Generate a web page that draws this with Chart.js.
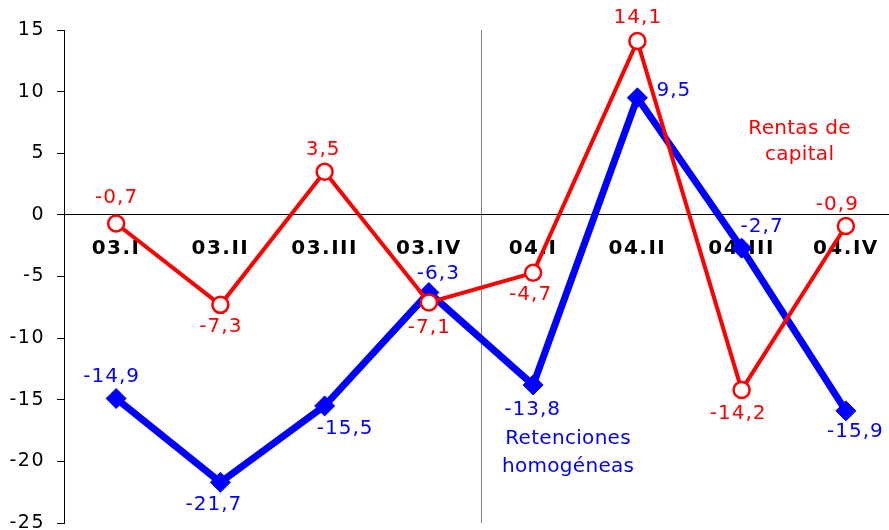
<!DOCTYPE html>
<html>
<head>
<meta charset="utf-8">
<script src="https://cdn.jsdelivr.net/npm/chart.js@4"></script>
<style>
  html, body { margin: 0; padding: 0; overflow: hidden; background: #fff; }
  #wrap { width: 909px; height: 560px; }
</style>
</head>
<body>
<div id="wrap"><canvas id="myChart" width="909" height="560"></canvas></div>
<script>
// datos del gráfico
var categorias = ['03.I', '03.II', '03.III', '03.IV', '04.I', '04.II', '04.III', '04.IV'];
var rentasCapital = [-0.7, -7.3, 3.5, -7.1, -4.7, 14.1, -14.2, -0.9];
var retenciones = [-14.9, -21.7, -15.5, -6.3, -13.8, 9.5, -2.7, -15.9];
var ticksY = [-25, -20, -15, -10, -5, 0, 5, 10, 15];

// desplazamiento de cada etiqueta respecto a su punto (px)
var offRojo = [[0, -26], [0, 22], [-2, -22], [0, 25], [-3, 22], [0, -23], [-4, 24], [-9, -21]];
var offAzul = [[-5, -22], [-7, 22], [20, 23], [9, -19], [-1, 25], [36, -7], [20, -21], [9, 21]];

var ROJO = '#ff0000';
var AZUL = '#0000ff';
var FUENTE = '"DejaVu Sans", Verdana, sans-serif';

function fmt(v) {
    return v.toFixed(1).replace('.', ',');
}

// espaciado de letras para los ejes (se quita antes de las series)
var espaciado = {
    id: 'espaciado',
    beforeDraw: function (chart) { chart.ctx.letterSpacing = '1.5px'; },
    beforeDatasetsDraw: function (chart) { chart.ctx.letterSpacing = '0px'; }
};

// etiquetas de valores y nombres de series
var etiquetas = {
    id: 'etiquetas',
    afterDatasetsDraw: function (chart) {
        var c = chart.ctx;
        var x = chart.scales.x, y = chart.scales.y;
        c.save();
        c.font = '20px ' + FUENTE;
        c.textAlign = 'center';
        c.textBaseline = 'middle';
        c.letterSpacing = '1px';
        var conf = [[0, ROJO, offRojo], [1, AZUL, offAzul]];
        conf.forEach(function (cf) {
            var meta = chart.getDatasetMeta(cf[0]);
            var vals = chart.data.datasets[cf[0]].data;
            c.fillStyle = cf[1];
            meta.data.forEach(function (p, i) {
                var o = cf[2][i];
                c.fillText(fmt(vals[i]), p.x + o[0] + 0.5, p.y + o[1]);
            });
        });
        c.letterSpacing = '0.3px';
        c.font = '20px ' + FUENTE;
        c.fillStyle = ROJO;
        var xr = x.getPixelForValue(6) + 58;
        c.fillText('Rentas de', xr, y.getPixelForValue(7));
        c.fillText('capital', xr, y.getPixelForValue(4.85));
        c.fillStyle = AZUL;
        var xb = x.getPixelForValue(4) + 35;
        c.fillText('Retenciones', xb, y.getPixelForValue(-18.2));
        c.fillText('homogéneas', xb, y.getPixelForValue(-20.45));
        c.restore();
    }
};

var ctx = document.getElementById('myChart').getContext('2d');

var myChart = new Chart(ctx, {
    type: 'line',
    data: {
        labels: categorias,
        datasets: [{
            label: 'Rentas de capital',
            data: rentasCapital,
            borderColor: ROJO,
            borderWidth: 4,
            pointRadius: 8,
            pointBackgroundColor: '#ffffff',
            pointBorderColor: ROJO,
            pointBorderWidth: 2.5,
            tension: 0
        }, {
            label: 'Retenciones homogéneas',
            data: retenciones,
            borderColor: AZUL,
            backgroundColor: AZUL,
            borderWidth: 7,
            pointStyle: 'rectRot',
            pointRadius: 10,
            pointBackgroundColor: AZUL,
            pointBorderColor: AZUL,
            pointBorderWidth: 1,
            tension: 0
        }]
    },
    options: {
        responsive: false,
        animation: false,
        events: [],
        layout: { padding: { left: 0, right: 4, top: 30, bottom: 37 } },
        plugins: {
            legend: { display: false },
            tooltip: { enabled: false }
        },
        scales: {
            x: {
                type: 'category',
                position: { y: 0 },
                offset: true,
                grid: {
                    offset: true,
                    drawOnChartArea: true,
                    drawTicks: true,
                    tickLength: 7,
                    color: function (c) { return c.index === 4 ? '#808080' : 'rgba(0,0,0,0)'; },
                    lineWidth: 1
                },
                border: { display: true, color: '#000000', width: 1 },
                ticks: {
                    color: '#000000',
                    font: { family: FUENTE, size: 20, weight: 'bold' },
                    padding: 15,
                    maxRotation: 0,
                    autoSkip: false
                }
            },
            y: {
                min: -25,
                max: 15,
                afterFit: function (s) { s.width = 64; },
                afterBuildTicks: function (s) { s.ticks = ticksY.map(function (v) { return { value: v }; }); },
                grid: {
                    drawOnChartArea: false,
                    drawTicks: true,
                    tickLength: 7,
                    color: '#000000'
                },
                border: { display: true, color: '#000000', width: 1 },
                ticks: {
                    color: '#000000',
                    font: { family: FUENTE, size: 19 },
                    padding: 12
                }
            }
        }
    },
    plugins: [espaciado, etiquetas]
});
</script>
</body>
</html>
